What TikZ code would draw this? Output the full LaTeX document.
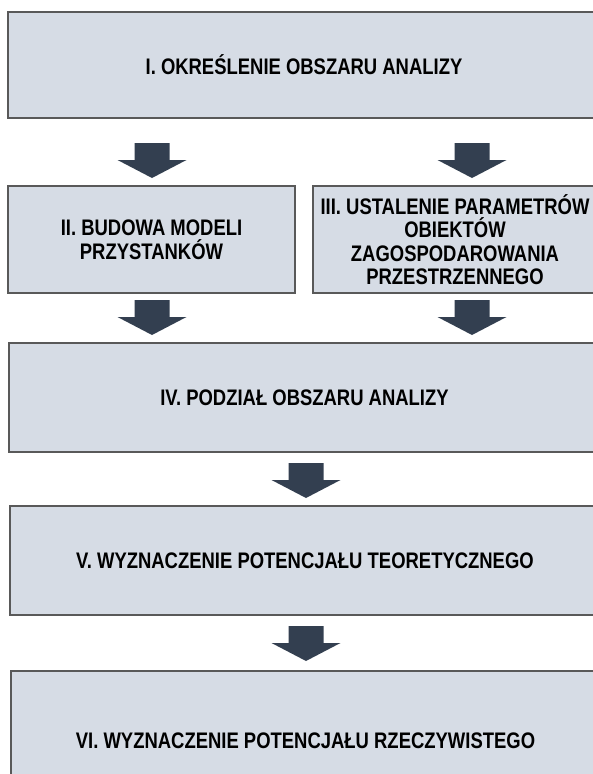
\documentclass[tikz,border=0pt]{standalone}
\usepackage{fontspec}
\setmainfont{Liberation Sans}[FakeStretch=0.82]
\definecolor{boxfill}{HTML}{D6DCE5}
\definecolor{boxline}{HTML}{595959}
\definecolor{arrowfill}{HTML}{333F50}
\tikzset{
  stagebox/.style={draw=boxline, line width=1.8pt, fill=boxfill, rectangle,
    inner sep=0pt, align=center, font=\fontsize{22.5}{23.5}\selectfont\bfseries,
    text=black},
  downarr/.pic={
    \fill[arrowfill] (-17.5,0) -- (17.5,0) -- (17.5,17) -- (34.5,17)
      -- (0,35) -- (-34.5,17) -- (-17.5,17) -- cycle;
  }
}
\begin{document}
\begin{tikzpicture}[x=1pt,y=-1pt]
  \useasboundingbox (0,0) rectangle (593,774);
  \clip (0,0) rectangle (593,774);
  % stage boxes
  \node[stagebox, minimum width=592pt, minimum height=106pt] (s1) at (304,65)
    {I. OKREŚLENIE OBSZARU ANALIZY};
  \node[stagebox, minimum width=287pt, minimum height=107pt] (s2) at (151.5,239.5)
    {II. BUDOWA MODELI\\PRZYSTANKÓW};
  \node[stagebox, minimum width=284pt, minimum height=107pt] (s3) at (455,239.5)
    {III. USTALENIE PARAMETRÓW\\OBIEKTÓW\\ZAGOSPODAROWANIA\\PRZESTRZENNEGO};
  \node[stagebox, minimum width=591pt, minimum height=109pt] (s4) at (304.5,397.5)
    {IV. PODZIAŁ OBSZARU ANALIZY};
  \node[stagebox, minimum width=590pt, minimum height=109pt] (s5) at (305,560.5)
    {V. WYZNACZENIE POTENCJAŁU TEORETYCZNEGO};
  \node[stagebox, minimum width=589pt, minimum height=140pt] (s6) at (305.5,741)
    {VI. WYZNACZENIE POTENCJAŁU RZECZYWISTEGO};
  % block arrows between the stages
  \coordinate (a12) at (152,143);
  \coordinate (a13) at (472,143);
  \coordinate (a24) at (152,300);
  \coordinate (a34) at (472,300);
  \coordinate (a45) at (306,463);
  \coordinate (a56) at (306,626);
  \foreach \a in {a12,a13,a24,a34,a45,a56}
    \pic at (\a) {downarr};
\end{tikzpicture}
\end{document}
